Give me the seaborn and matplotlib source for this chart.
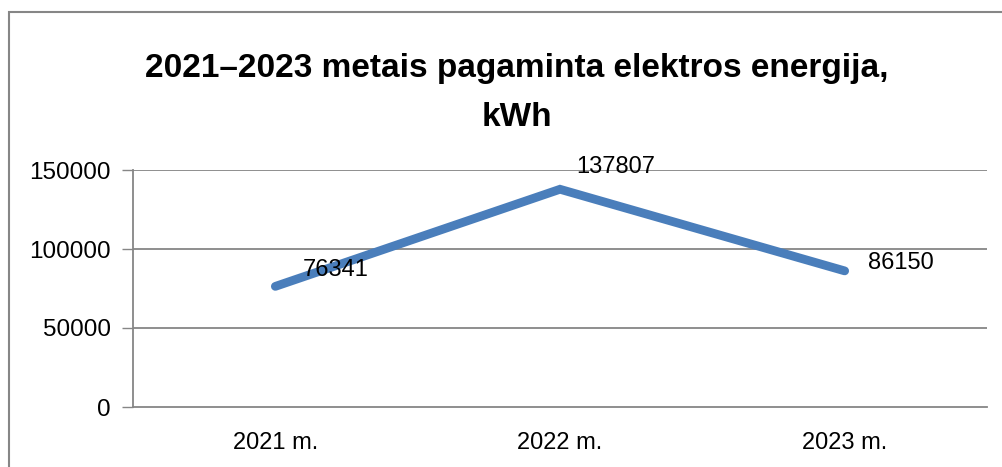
import matplotlib
matplotlib.use("Agg")
import matplotlib.pyplot as plt
import seaborn as sns
import pandas as pd
from matplotlib.patches import Rectangle

categories = ["2021 m.", "2022 m.", "2023 m."]
values = [76341, 137807, 86150]
y_ticks = [0, 50000, 100000, 150000]
title_lines = ["2021–2023 metais pagaminta elektros energija,", "kWh"]

# label offsets in points (layout only)
label_offsets = [(20, 12), (12, 16), (17, 6)]

df = pd.DataFrame({"cat": categories, "val": values})

sns.set_theme(style="white")
plt.rcParams["font.family"] = ["Liberation Sans", "DejaVu Sans"]

W, H = 1003, 467
fig = plt.figure(figsize=(W / 100, H / 100), dpi=100)
ax = fig.add_axes([133 / W, 1 - 407 / H, (987 - 133) / W, (407 - 170) / H])

line_color = "#4A7EBB"
grid_color = "#868686"

df["x"] = range(len(categories))
sns.lineplot(data=df, x="x", y="val", ax=ax, color=line_color, linewidth=6.3,
             solid_capstyle="round", solid_joinstyle="miter")

ax.set_xlim(-0.5, len(categories) - 0.5)
ax.set_ylim(0, 150000)
ax.set_yticks(y_ticks)
ax.set_yticklabels([str(v) for v in y_ticks], fontsize=17.5, color="black")
ax.set_xticks(range(len(categories)))
ax.set_xticklabels(categories, fontsize=17, color="black")
ax.set_xticks([i - 0.5 for i in range(len(categories) + 1)], minor=True)
ax.tick_params(axis="x", which="major", length=0, pad=18)
ax.tick_params(axis="x", which="minor", length=8, width=1, color=grid_color, direction="out")
ax.tick_params(axis="y", which="major", length=8, width=1, color=grid_color, direction="out", pad=8, left=True)
ax.set_xlabel("")
ax.set_ylabel("")

for v in y_ticks[1:]:
    ax.axhline(v, color=grid_color, linewidth=1.3, zorder=0)

for s in ["top", "right"]:
    ax.spines[s].set_visible(False)
for s in ["left", "bottom"]:
    ax.spines[s].set_color(grid_color)
    ax.spines[s].set_linewidth(1.3)

for i, (v, off) in enumerate(zip(values, label_offsets)):
    ax.annotate(str(v), (i, v), xytext=off, textcoords="offset points",
                ha="left", va="center", fontsize=17, color="black")

fig.text(517 / W, 1 - 68 / H, title_lines[0], ha="center", va="center",
         fontsize=24, fontweight="bold", color="black")
fig.text(517 / W, 1 - 117 / H, title_lines[1], ha="center", va="center",
         fontsize=24, fontweight="bold", color="black")

fig.patches.append(Rectangle((9 / W, -0.1), 1.2, 1 - 12 / H + 0.1, transform=fig.transFigure,
                             fill=False, edgecolor=grid_color, linewidth=1.5, zorder=-1))

fig.savefig("out.png", dpi=100)
